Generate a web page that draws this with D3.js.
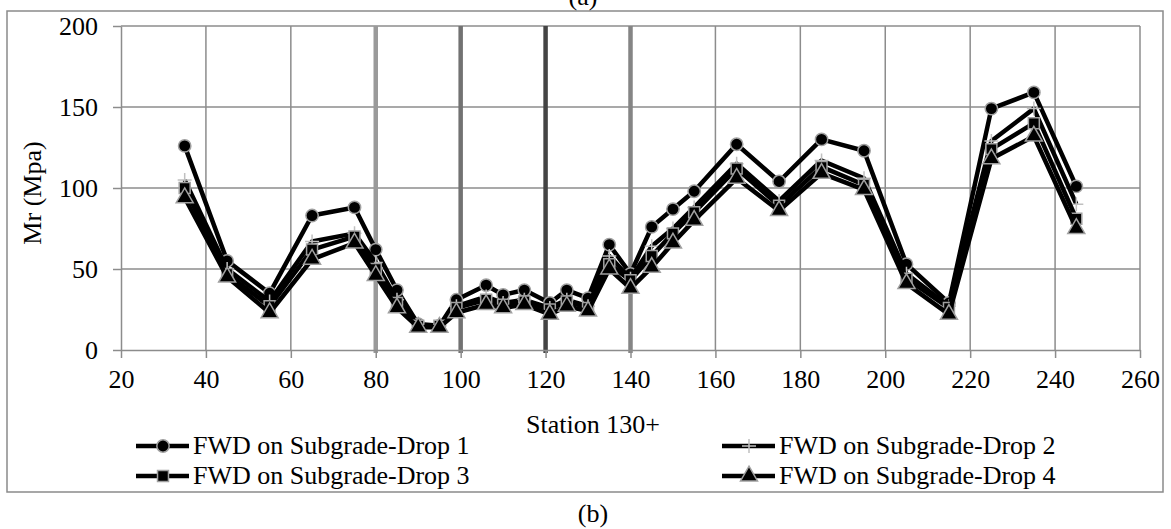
<!DOCTYPE html>
<html>
<head>
<meta charset="utf-8">
<script src="https://cdn.jsdelivr.net/npm/d3@7"></script>
<style>
  body { margin: 0; background: #fff; }
</style>
</head>
<body>
<div id="chart"></div>
<script>
var stations = [35,45,55,65,75,80,85,90,95,99,106,110,115,121,125,130,135,140,145,150,155,165,175,185,195,205,215,225,235,245];
var drop1 = [126,55,35,83,88,62,37,16,15,31,40,34,37,29,37,32,65,47,76,87,98,127,104,130,123,53,29,149,159,101];
var drop2 = [105,50,30,67,72,54,31,15,15,27,33,29,31,26,31,27,58,44,64,75,88,115,92,117,106,47,27,129,149,90];
var drop3 = [100,47,27,62,70,50,29,15,15,26,31,28,30,25,30,26,53,43,58,72,85,112,89,113,102,44,26,124,140,81];
var drop4 = [94,45,23,56,66,46,26,14,14,23,28,26,28,22,27,24,50,38,51,66,80,106,86,109,99,41,22,118,132,75];
var seriesNames = ["FWD on Subgrade-Drop 1","FWD on Subgrade-Drop 2","FWD on Subgrade-Drop 3","FWD on Subgrade-Drop 4"];
var xTicks = [20,40,60,80,100,120,140,160,180,200,220,240,260];
var yTicks = [0,50,100,150,200];
var markLines = [80,100,120,140];

var width = 1171, height = 529;
var markColors = ["#9a9a9a","#727272","#444444","#858585"];
var serif = "'Liberation Serif', 'Times New Roman', Times, 'DejaVu Serif', serif";

var svg = d3.select("#chart").append("svg")
  .attr("width", width)
  .attr("height", height)
  .style("font-family", serif);

var x = d3.scaleLinear().domain([20,260]).range([121,1140]);
var y = d3.scaleLinear().domain([0,200]).range([350,26]);

// outer frame
svg.append("rect")
  .attr("x", 7).attr("y", 11)
  .attr("width", 1156).attr("height", 481)
  .attr("fill", "none")
  .attr("stroke", "#8a8a8a")
  .attr("stroke-width", 1.5);

// grid
svg.append("g").selectAll("line")
  .data(yTicks.slice(1))
  .enter().append("line")
    .attr("x1", x(20)).attr("x2", x(260))
    .attr("y1", function(d){ return y(d); }).attr("y2", function(d){ return y(d); })
    .attr("stroke", "#8c8c8c").attr("stroke-width", 1.5);

svg.append("g").selectAll("line")
  .data(xTicks.slice(1))
  .enter().append("line")
    .attr("x1", function(d){ return x(d); }).attr("x2", function(d){ return x(d); })
    .attr("y1", y(0)).attr("y2", y(200))
    .attr("stroke", "#8c8c8c").attr("stroke-width", 1.5);

svg.append("g").selectAll("line")
  .data(markLines)
  .enter().append("line")
    .attr("x1", function(d){ return x(d); }).attr("x2", function(d){ return x(d); })
    .attr("y1", y(0) + 3).attr("y2", y(200))
    .attr("stroke", function(d,i){ return markColors[i]; })
    .attr("stroke-width", 4.5);

// axes
var xAxis = svg.append("g")
  .attr("transform", "translate(0," + y(0) + ")")
  .call(d3.axisBottom(x).tickValues(xTicks).tickSize(8).tickSizeOuter(0).tickPadding(12));
var yAxis = svg.append("g")
  .attr("transform", "translate(" + x(20) + ",0)")
  .call(d3.axisLeft(y).tickValues(yTicks).tickSize(8).tickSizeOuter(0).tickPadding(15));

[xAxis, yAxis].forEach(function(a){
  a.attr("font-family", null).attr("font-size", null);
  a.select(".domain").attr("stroke", "#8c8c8c").attr("stroke-width", 1.5);
  a.selectAll(".tick line").attr("stroke", "#8c8c8c").attr("stroke-width", 1.5);
  a.selectAll("text")
    .style("font-family", serif)
    .style("font-size", "26px")
    .attr("fill", "#000");
});
yAxis.selectAll("text").attr("dy", "0.33em");

function label(txt, xx, yy, rot) {
  var t = svg.append("text")
    .attr("text-anchor", "middle")
    .style("font-family", serif)
    .style("font-size", "26px")
    .text(txt);
  if (rot) t.attr("transform", "translate(" + xx + "," + yy + ") rotate(-90)");
  else t.attr("x", xx).attr("y", yy);
  return t;
}

label("Mr (Mpa)", 41, 193, true);
label("Station 130+", 593, 433);
label("(a)", 583, 5);
label("(b)", 593, 522);

// series
var allDrops = [drop1, drop2, drop3, drop4];
var symbolTypes = [d3.symbolCircle, null, d3.symbolSquare, d3.symbolTriangle];
var symbolSizes = [120, 0, 120, 125];

var line = d3.line()
  .x(function(d){ return x(d[0]); })
  .y(function(d){ return y(d[1]); });

function drawMarker(g, k) {
  if (symbolTypes[k] === null) {
    g.append("path")
      .attr("d", "M-7,0H7M0,-7V7")
      .attr("stroke", "#c0c0c0")
      .attr("stroke-width", 1.5)
      .attr("fill", "none");
  } else {
    g.append("path")
      .attr("d", d3.symbol().type(symbolTypes[k]).size(symbolSizes[k])())
      .attr("fill", "#000")
      .attr("stroke", "#a0a0a0")
      .attr("stroke-width", 1.5);
  }
}

allDrops.forEach(function(vals, k){
  var pts = stations.map(function(s, i){ return [s, vals[i]]; });
  var g = svg.append("g");
  g.append("path")
    .datum(pts)
    .attr("d", line)
    .attr("fill", "none")
    .attr("stroke", "#000")
    .attr("stroke-width", 4.5)
    .attr("stroke-linejoin", "round");
  g.selectAll(".m")
    .data(pts)
    .enter().append("g")
      .attr("transform", function(d){ return "translate(" + x(d[0]) + "," + y(d[1]) + ")"; })
      .each(function(){ drawMarker(d3.select(this), k); });
});

// legend
var legendPos = [[136,446],[722,446],[136,476],[722,476]];
seriesNames.forEach(function(name, k){
  var lx = legendPos[k][0], ly = legendPos[k][1];
  var g = svg.append("g").attr("transform", "translate(" + lx + "," + ly + ")");
  g.append("line")
    .attr("x1", 0).attr("x2", 53)
    .attr("y1", 0).attr("y2", 0)
    .attr("stroke", "#000").attr("stroke-width", 4.5);
  var mg = g.append("g").attr("transform", "translate(27,0)");
  drawMarker(mg, k);
  g.append("text")
    .attr("x", 57).attr("y", 0).attr("dy", "0.32em")
    .style("font-family", serif)
    .style("font-size", "26px")
    .text(name);
});
</script>
</body>
</html>
